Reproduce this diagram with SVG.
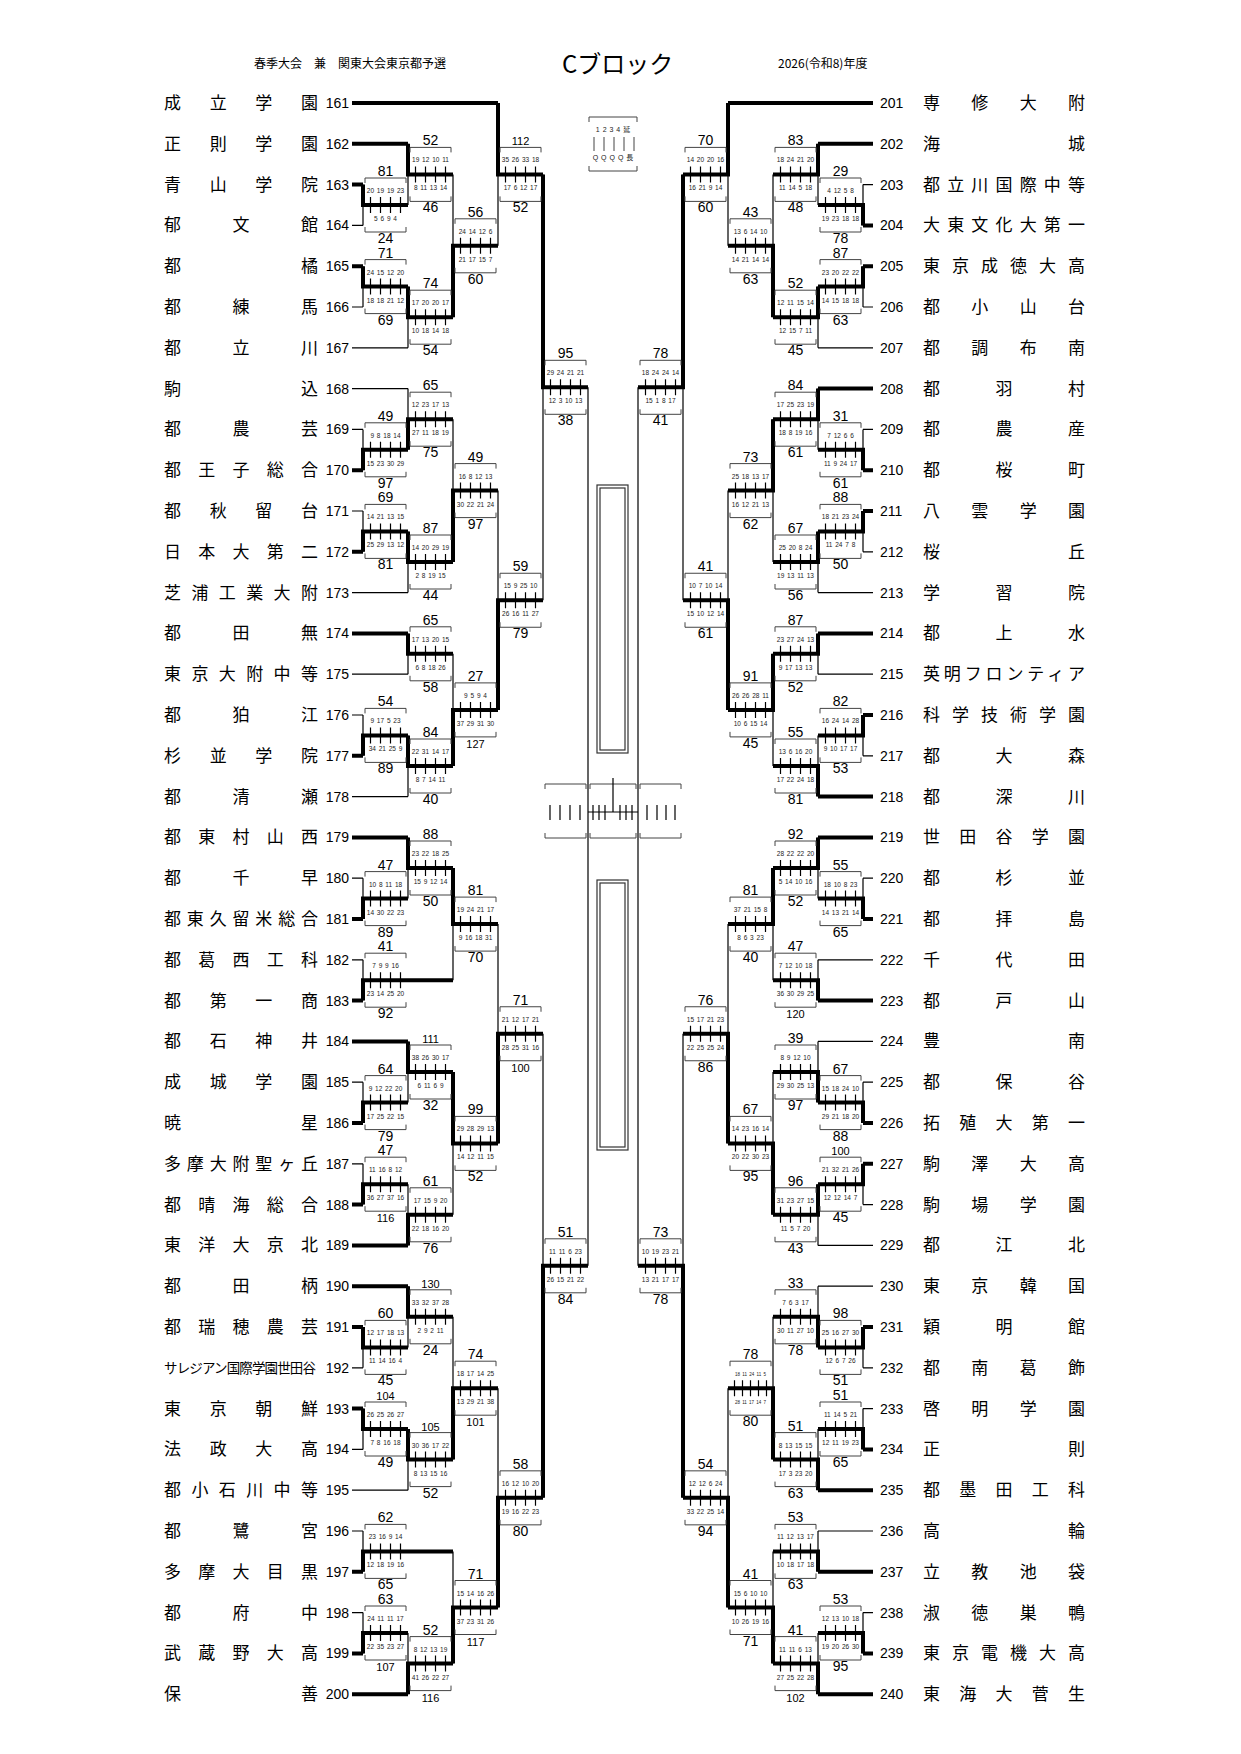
<svg xmlns="http://www.w3.org/2000/svg" xmlns:xlink="http://www.w3.org/1999/xlink" width="1241" height="1754" viewBox="0 0 1241 1754">
<style>
text{font-family:"Liberation Sans",Arial,"Noto Sans CJK JP",sans-serif;fill:#000}
.n{font-family:"Noto Sans CJK JP",sans-serif;font-size:17px}
.n2{font-family:"Noto Sans CJK JP",sans-serif;font-size:13.5px}
.no{font-size:14px}
.ne{font-size:14px;text-anchor:end}
.b{font-size:14px;text-anchor:middle}
.c{font-size:11px;text-anchor:middle}
.s{font-size:6.5px;text-anchor:middle;word-spacing:1px;fill:#222}
.h{font-family:"Noto Sans CJK JP",sans-serif;font-size:12px}
.t{fill:none;stroke:#000;stroke-width:1.2}
.k{fill:none;stroke:#000;stroke-width:4}
.bl{fill:none;stroke:#444;stroke-width:1}
</style>
<defs>
<g id="bx"><path class="bl" d="M2,-22V-27H43V-22M2,22V27H43V22"/><path class="t" d="M7.5,-8V8M17.5,-8V8M27.5,-8V8M37.5,-8V8"/></g>
<g id="bx5"><path class="bl" d="M2,-22V-27H43V-22M2,22V27H43V22"/><path class="t" d="M6.5,-8V8M14.5,-8V8M22.5,-8V8M30.5,-8V8M38.5,-8V8"/></g>
</defs>
<rect width="1241" height="1754" fill="#fff"/>
<g id="header">
<text class="h" x="254" y="68">春季大会　兼　関東大会東京都予選</text>
<text x="562" y="73" style="font-family:'Noto Sans CJK JP',sans-serif;font-size:24px">Cブロック</text>
<text class="h" x="778" y="68">2026(令和8)年度</text>
</g>
<g id="legend">
<path class="bl" d="M589,122V117H637V122M589,166V171H637V166M594,137V151M604,137V151M614,137V151M624,137V151M634,137V151"/>
<text class="s" style="font-size:7px" x="613" y="132">1 2 3 4 延</text>
<text class="s" style="font-size:7px" x="613" y="160">Q Q Q Q 長</text>
</g>
<g id="center">
<rect x="597" y="485" width="31" height="268" fill="none" stroke="#333" stroke-width="1.2"/>
<rect x="600" y="488" width="25" height="262" fill="none" stroke="#333" stroke-width="1.2"/>
<rect x="597" y="880" width="31" height="270" fill="none" stroke="#333" stroke-width="1.2"/>
<rect x="600" y="883" width="25" height="264" fill="none" stroke="#333" stroke-width="1.2"/>
<path class="bl" d="M545,789V784H586V789M545,833V838H586V833M590,789V784H636V789M590,833V838H636V833M640,789V784H681V789M640,833V838H681V833"/>
<path class="t" d="M550,805V820M560,805V820M570,805V820M580,805V820M647,805V820M657,805V820M666,805V820M675,805V820M593,805V820M599,805V820M605,805V820M620,805V820M626,805V820M632,805V820M588,812H638M613,778V812"/>
</g>
<g id="teams-left">
<g id="t161" transform="translate(0,103)"><text class="n" x="164" y="6" textLength="154" lengthAdjust="spacing">成立学園</text><text class="ne" x="349" y="5">161</text></g>
<g id="t162" transform="translate(0,143.8)"><text class="n" x="164" y="6" textLength="154" lengthAdjust="spacing">正則学園</text><text class="ne" x="349" y="5">162</text></g>
<g id="t163" transform="translate(0,184.6)"><text class="n" x="164" y="6" textLength="154" lengthAdjust="spacing">青山学院</text><text class="ne" x="349" y="5">163</text></g>
<g id="t164" transform="translate(0,225.4)"><text class="n" x="164" y="6" textLength="154" lengthAdjust="spacing">郁文館</text><text class="ne" x="349" y="5">164</text></g>
<g id="t165" transform="translate(0,266.2)"><text class="n" x="164" y="6" textLength="154" lengthAdjust="spacing">都橘</text><text class="ne" x="349" y="5">165</text></g>
<g id="t166" transform="translate(0,307)"><text class="n" x="164" y="6" textLength="154" lengthAdjust="spacing">都練馬</text><text class="ne" x="349" y="5">166</text></g>
<g id="t167" transform="translate(0,347.8)"><text class="n" x="164" y="6" textLength="154" lengthAdjust="spacing">都立川</text><text class="ne" x="349" y="5">167</text></g>
<g id="t168" transform="translate(0,388.6)"><text class="n" x="164" y="6" textLength="154" lengthAdjust="spacing">駒込</text><text class="ne" x="349" y="5">168</text></g>
<g id="t169" transform="translate(0,429.4)"><text class="n" x="164" y="6" textLength="154" lengthAdjust="spacing">都農芸</text><text class="ne" x="349" y="5">169</text></g>
<g id="t170" transform="translate(0,470.2)"><text class="n" x="164" y="6" textLength="154" lengthAdjust="spacing">都王子総合</text><text class="ne" x="349" y="5">170</text></g>
<g id="t171" transform="translate(0,511)"><text class="n" x="164" y="6" textLength="154" lengthAdjust="spacing">都秋留台</text><text class="ne" x="349" y="5">171</text></g>
<g id="t172" transform="translate(0,551.8)"><text class="n" x="164" y="6" textLength="154" lengthAdjust="spacing">日本大第二</text><text class="ne" x="349" y="5">172</text></g>
<g id="t173" transform="translate(0,592.6)"><text class="n" x="164" y="6" textLength="154" lengthAdjust="spacing">芝浦工業大附</text><text class="ne" x="349" y="5">173</text></g>
<g id="t174" transform="translate(0,633.4)"><text class="n" x="164" y="6" textLength="154" lengthAdjust="spacing">都田無</text><text class="ne" x="349" y="5">174</text></g>
<g id="t175" transform="translate(0,674.2)"><text class="n" x="164" y="6" textLength="154" lengthAdjust="spacing">東京大附中等</text><text class="ne" x="349" y="5">175</text></g>
<g id="t176" transform="translate(0,715)"><text class="n" x="164" y="6" textLength="154" lengthAdjust="spacing">都狛江</text><text class="ne" x="349" y="5">176</text></g>
<g id="t177" transform="translate(0,755.8)"><text class="n" x="164" y="6" textLength="154" lengthAdjust="spacing">杉並学院</text><text class="ne" x="349" y="5">177</text></g>
<g id="t178" transform="translate(0,796.6)"><text class="n" x="164" y="6" textLength="154" lengthAdjust="spacing">都清瀬</text><text class="ne" x="349" y="5">178</text></g>
<g id="t179" transform="translate(0,837.4)"><text class="n" x="164" y="6" textLength="154" lengthAdjust="spacing">都東村山西</text><text class="ne" x="349" y="5">179</text></g>
<g id="t180" transform="translate(0,878.2)"><text class="n" x="164" y="6" textLength="154" lengthAdjust="spacing">都千早</text><text class="ne" x="349" y="5">180</text></g>
<g id="t181" transform="translate(0,919)"><text class="n" x="164" y="6" textLength="154" lengthAdjust="spacing">都東久留米総合</text><text class="ne" x="349" y="5">181</text></g>
<g id="t182" transform="translate(0,959.8)"><text class="n" x="164" y="6" textLength="154" lengthAdjust="spacing">都葛西工科</text><text class="ne" x="349" y="5">182</text></g>
<g id="t183" transform="translate(0,1000.6)"><text class="n" x="164" y="6" textLength="154" lengthAdjust="spacing">都第一商</text><text class="ne" x="349" y="5">183</text></g>
<g id="t184" transform="translate(0,1041.4)"><text class="n" x="164" y="6" textLength="154" lengthAdjust="spacing">都石神井</text><text class="ne" x="349" y="5">184</text></g>
<g id="t185" transform="translate(0,1082.2)"><text class="n" x="164" y="6" textLength="154" lengthAdjust="spacing">成城学園</text><text class="ne" x="349" y="5">185</text></g>
<g id="t186" transform="translate(0,1123)"><text class="n" x="164" y="6" textLength="154" lengthAdjust="spacing">暁星</text><text class="ne" x="349" y="5">186</text></g>
<g id="t187" transform="translate(0,1163.8)"><text class="n" x="164" y="6" textLength="154" lengthAdjust="spacing">多摩大附聖ヶ丘</text><text class="ne" x="349" y="5">187</text></g>
<g id="t188" transform="translate(0,1204.6)"><text class="n" x="164" y="6" textLength="154" lengthAdjust="spacing">都晴海総合</text><text class="ne" x="349" y="5">188</text></g>
<g id="t189" transform="translate(0,1245.4)"><text class="n" x="164" y="6" textLength="154" lengthAdjust="spacing">東洋大京北</text><text class="ne" x="349" y="5">189</text></g>
<g id="t190" transform="translate(0,1286.2)"><text class="n" x="164" y="6" textLength="154" lengthAdjust="spacing">都田柄</text><text class="ne" x="349" y="5">190</text></g>
<g id="t191" transform="translate(0,1327)"><text class="n" x="164" y="6" textLength="154" lengthAdjust="spacing">都瑞穂農芸</text><text class="ne" x="349" y="5">191</text></g>
<g id="t192" transform="translate(0,1367.8)"><text class="n2" x="164" y="5" textLength="152" lengthAdjust="spacing">サレジアン国際学園世田谷</text><text class="ne" x="349" y="5">192</text></g>
<g id="t193" transform="translate(0,1408.6)"><text class="n" x="164" y="6" textLength="154" lengthAdjust="spacing">東京朝鮮</text><text class="ne" x="349" y="5">193</text></g>
<g id="t194" transform="translate(0,1449.4)"><text class="n" x="164" y="6" textLength="154" lengthAdjust="spacing">法政大高</text><text class="ne" x="349" y="5">194</text></g>
<g id="t195" transform="translate(0,1490.2)"><text class="n" x="164" y="6" textLength="154" lengthAdjust="spacing">都小石川中等</text><text class="ne" x="349" y="5">195</text></g>
<g id="t196" transform="translate(0,1531)"><text class="n" x="164" y="6" textLength="154" lengthAdjust="spacing">都鷺宮</text><text class="ne" x="349" y="5">196</text></g>
<g id="t197" transform="translate(0,1571.8)"><text class="n" x="164" y="6" textLength="154" lengthAdjust="spacing">多摩大目黒</text><text class="ne" x="349" y="5">197</text></g>
<g id="t198" transform="translate(0,1612.6)"><text class="n" x="164" y="6" textLength="154" lengthAdjust="spacing">都府中</text><text class="ne" x="349" y="5">198</text></g>
<g id="t199" transform="translate(0,1653.4)"><text class="n" x="164" y="6" textLength="154" lengthAdjust="spacing">武蔵野大高</text><text class="ne" x="349" y="5">199</text></g>
<g id="t200" transform="translate(0,1694.2)"><text class="n" x="164" y="6" textLength="154" lengthAdjust="spacing">保善</text><text class="ne" x="349" y="5">200</text></g>
</g>
<g id="teams-right">
<g id="t201" transform="translate(0,103)"><text class="no" x="880" y="5">201</text><text class="n" x="923" y="6" textLength="162" lengthAdjust="spacing">専修大附</text></g>
<g id="t202" transform="translate(0,143.8)"><text class="no" x="880" y="5">202</text><text class="n" x="923" y="6" textLength="162" lengthAdjust="spacing">海城</text></g>
<g id="t203" transform="translate(0,184.6)"><text class="no" x="880" y="5">203</text><text class="n" x="923" y="6" textLength="162" lengthAdjust="spacing">都立川国際中等</text></g>
<g id="t204" transform="translate(0,225.4)"><text class="no" x="880" y="5">204</text><text class="n" x="923" y="6" textLength="162" lengthAdjust="spacing">大東文化大第一</text></g>
<g id="t205" transform="translate(0,266.2)"><text class="no" x="880" y="5">205</text><text class="n" x="923" y="6" textLength="162" lengthAdjust="spacing">東京成徳大高</text></g>
<g id="t206" transform="translate(0,307)"><text class="no" x="880" y="5">206</text><text class="n" x="923" y="6" textLength="162" lengthAdjust="spacing">都小山台</text></g>
<g id="t207" transform="translate(0,347.8)"><text class="no" x="880" y="5">207</text><text class="n" x="923" y="6" textLength="162" lengthAdjust="spacing">都調布南</text></g>
<g id="t208" transform="translate(0,388.6)"><text class="no" x="880" y="5">208</text><text class="n" x="923" y="6" textLength="162" lengthAdjust="spacing">都羽村</text></g>
<g id="t209" transform="translate(0,429.4)"><text class="no" x="880" y="5">209</text><text class="n" x="923" y="6" textLength="162" lengthAdjust="spacing">都農産</text></g>
<g id="t210" transform="translate(0,470.2)"><text class="no" x="880" y="5">210</text><text class="n" x="923" y="6" textLength="162" lengthAdjust="spacing">都桜町</text></g>
<g id="t211" transform="translate(0,511)"><text class="no" x="880" y="5">211</text><text class="n" x="923" y="6" textLength="162" lengthAdjust="spacing">八雲学園</text></g>
<g id="t212" transform="translate(0,551.8)"><text class="no" x="880" y="5">212</text><text class="n" x="923" y="6" textLength="162" lengthAdjust="spacing">桜丘</text></g>
<g id="t213" transform="translate(0,592.6)"><text class="no" x="880" y="5">213</text><text class="n" x="923" y="6" textLength="162" lengthAdjust="spacing">学習院</text></g>
<g id="t214" transform="translate(0,633.4)"><text class="no" x="880" y="5">214</text><text class="n" x="923" y="6" textLength="162" lengthAdjust="spacing">都上水</text></g>
<g id="t215" transform="translate(0,674.2)"><text class="no" x="880" y="5">215</text><text class="n" x="923" y="6" textLength="162" lengthAdjust="spacing">英明フロンティア</text></g>
<g id="t216" transform="translate(0,715)"><text class="no" x="880" y="5">216</text><text class="n" x="923" y="6" textLength="162" lengthAdjust="spacing">科学技術学園</text></g>
<g id="t217" transform="translate(0,755.8)"><text class="no" x="880" y="5">217</text><text class="n" x="923" y="6" textLength="162" lengthAdjust="spacing">都大森</text></g>
<g id="t218" transform="translate(0,796.6)"><text class="no" x="880" y="5">218</text><text class="n" x="923" y="6" textLength="162" lengthAdjust="spacing">都深川</text></g>
<g id="t219" transform="translate(0,837.4)"><text class="no" x="880" y="5">219</text><text class="n" x="923" y="6" textLength="162" lengthAdjust="spacing">世田谷学園</text></g>
<g id="t220" transform="translate(0,878.2)"><text class="no" x="880" y="5">220</text><text class="n" x="923" y="6" textLength="162" lengthAdjust="spacing">都杉並</text></g>
<g id="t221" transform="translate(0,919)"><text class="no" x="880" y="5">221</text><text class="n" x="923" y="6" textLength="162" lengthAdjust="spacing">都拝島</text></g>
<g id="t222" transform="translate(0,959.8)"><text class="no" x="880" y="5">222</text><text class="n" x="923" y="6" textLength="162" lengthAdjust="spacing">千代田</text></g>
<g id="t223" transform="translate(0,1000.6)"><text class="no" x="880" y="5">223</text><text class="n" x="923" y="6" textLength="162" lengthAdjust="spacing">都戸山</text></g>
<g id="t224" transform="translate(0,1041.4)"><text class="no" x="880" y="5">224</text><text class="n" x="923" y="6" textLength="162" lengthAdjust="spacing">豊南</text></g>
<g id="t225" transform="translate(0,1082.2)"><text class="no" x="880" y="5">225</text><text class="n" x="923" y="6" textLength="162" lengthAdjust="spacing">都保谷</text></g>
<g id="t226" transform="translate(0,1123)"><text class="no" x="880" y="5">226</text><text class="n" x="923" y="6" textLength="162" lengthAdjust="spacing">拓殖大第一</text></g>
<g id="t227" transform="translate(0,1163.8)"><text class="no" x="880" y="5">227</text><text class="n" x="923" y="6" textLength="162" lengthAdjust="spacing">駒澤大高</text></g>
<g id="t228" transform="translate(0,1204.6)"><text class="no" x="880" y="5">228</text><text class="n" x="923" y="6" textLength="162" lengthAdjust="spacing">駒場学園</text></g>
<g id="t229" transform="translate(0,1245.4)"><text class="no" x="880" y="5">229</text><text class="n" x="923" y="6" textLength="162" lengthAdjust="spacing">都江北</text></g>
<g id="t230" transform="translate(0,1286.2)"><text class="no" x="880" y="5">230</text><text class="n" x="923" y="6" textLength="162" lengthAdjust="spacing">東京韓国</text></g>
<g id="t231" transform="translate(0,1327)"><text class="no" x="880" y="5">231</text><text class="n" x="923" y="6" textLength="162" lengthAdjust="spacing">穎明館</text></g>
<g id="t232" transform="translate(0,1367.8)"><text class="no" x="880" y="5">232</text><text class="n" x="923" y="6" textLength="162" lengthAdjust="spacing">都南葛飾</text></g>
<g id="t233" transform="translate(0,1408.6)"><text class="no" x="880" y="5">233</text><text class="n" x="923" y="6" textLength="162" lengthAdjust="spacing">啓明学園</text></g>
<g id="t234" transform="translate(0,1449.4)"><text class="no" x="880" y="5">234</text><text class="n" x="923" y="6" textLength="162" lengthAdjust="spacing">正則</text></g>
<g id="t235" transform="translate(0,1490.2)"><text class="no" x="880" y="5">235</text><text class="n" x="923" y="6" textLength="162" lengthAdjust="spacing">都墨田工科</text></g>
<g id="t236" transform="translate(0,1531)"><text class="no" x="880" y="5">236</text><text class="n" x="923" y="6" textLength="162" lengthAdjust="spacing">高輪</text></g>
<g id="t237" transform="translate(0,1571.8)"><text class="no" x="880" y="5">237</text><text class="n" x="923" y="6" textLength="162" lengthAdjust="spacing">立教池袋</text></g>
<g id="t238" transform="translate(0,1612.6)"><text class="no" x="880" y="5">238</text><text class="n" x="923" y="6" textLength="162" lengthAdjust="spacing">淑徳巣鴨</text></g>
<g id="t239" transform="translate(0,1653.4)"><text class="no" x="880" y="5">239</text><text class="n" x="923" y="6" textLength="162" lengthAdjust="spacing">東京電機大高</text></g>
<g id="t240" transform="translate(0,1694.2)"><text class="no" x="880" y="5">240</text><text class="n" x="923" y="6" textLength="162" lengthAdjust="spacing">東海大菅生</text></g>
</g>
<g id="connectors">
<path class="t" d="M352 225.4H363M352 307H363M352 347.8H408M352 388.6H408M352 429.4H363M352 511H363M352 592.6H408M352 674.2H408M352 715H363M352 796.6H408M352 878.2H363M352 959.8H363M352 1082.2H363M352 1163.8H363M352 1367.8H363M352 1449.4H363M352 1490.2H408M352 1531H363M352 1612.6H363
M363 184.6V225.4M363 266.2V307M408 143.8V205M408 286.6V347.8M453 174.4V317.2M498 103V245.8M363 429.4V470.2M408 388.6V449.8M363 511V551.8M408 531.4V592.6M453 419.2V562M408 633.4V674.2M363 715V755.8M408 735.4V796.6M453 653.8V766M498 490.6V709.9M543 174.4V600.25M363 878.2V919M408 837.4V898.6M363 959.8V1000.6M453 868V980.2M363 1082.2V1123M408 1041.4V1102.6M363 1163.8V1204.6M408 1184.2V1245.4M453 1072V1214.8M498 924.1V1143.4M363 1327V1367.8M408 1286.2V1347.4M363 1408.6V1449.4M408 1429V1490.2M453 1316.8V1459.6M363 1531V1571.8M363 1612.6V1653.4M408 1633V1694.2M453 1551.4V1663.6M498 1388.2V1607.5M543 1033.75V1497.85M588 387.3V1265.8
M873 184.6H863M873 307H863M873 347.8H818M873 429.4H863M873 551.8H863M873 592.6H818M873 674.2H818M873 755.8H863M873 878.2H863M873 959.8H818M873 1041.4H818M873 1082.2H863M873 1204.6H863M873 1245.4H818M873 1286.2H818M873 1367.8H863M873 1408.6H863M873 1531H818M873 1612.6H863
M863 184.6V225.4M863 266.2V307M818 143.8V205M818 286.6V347.8M773 174.4V317.2M728 103V245.8M863 429.4V470.2M818 388.6V449.8M863 511V551.8M818 531.4V592.6M773 419.2V562M818 633.4V674.2M863 715V755.8M818 735.4V796.6M773 653.8V766M728 490.6V709.9M683 174.4V600.25M863 878.2V919M818 837.4V898.6M818 959.8V1000.6M773 868V980.2M863 1082.2V1123M818 1041.4V1102.6M863 1163.8V1204.6M818 1184.2V1245.4M773 1072V1214.8M728 924.1V1143.4M863 1327V1367.8M818 1286.2V1347.4M863 1408.6V1449.4M818 1429V1490.2M773 1316.8V1459.6M818 1531V1571.8M863 1612.6V1653.4M818 1633V1694.2M773 1551.4V1663.6M728 1388.2V1607.5M683 1033.75V1497.85M638 387.3V1265.8"/>
<path class="k" d="M352 103H498M352 143.8H408M352 184.6H363M352 266.2H363M352 470.2H363M352 551.8H363M352 633.4H408M352 755.8H363M352 837.4H408M352 919H363M352 1000.6H363M352 1041.4H408M352 1123H363M352 1204.6H363M352 1245.4H408M352 1286.2H408M352 1327H363M352 1408.6H363M352 1571.8H363M352 1653.4H363M352 1694.2H408
M363 184.6V205H408M363 266.2V286.6H408M408 143.8V174.4H453M408 286.6V317.2H453M453 317.2V245.8H498M498 103V174.4H543M363 470.2V449.8H408M408 449.8V419.2H453M363 551.8V531.4H408M408 531.4V562H453M453 562V490.6H498M408 633.4V653.8H453M363 755.8V735.4H408M408 735.4V766H453M453 766V709.9H498M498 709.9V600.25H543M543 174.4V387.3H588M363 919V898.6H408M408 837.4V868H453M363 1000.6V980.2H453M453 868V924.1H498M363 1123V1102.6H408M408 1041.4V1072H453M363 1204.6V1184.2H408M408 1245.4V1214.8H453M453 1072V1143.4H498M498 1143.4V1033.75H543M363 1327V1347.4H408M408 1286.2V1316.8H453M363 1408.6V1429H408M408 1429V1459.6H453M453 1459.6V1388.2H498M363 1571.8V1551.4H453M363 1653.4V1633H408M408 1694.2V1663.6H453M453 1663.6V1607.5H498M498 1607.5V1497.85H543M543 1497.85V1265.8H588
M873 103H728M873 143.8H818M873 225.4H863M873 266.2H863M873 388.6H818M873 470.2H863M873 511H863M873 633.4H818M873 715H863M873 796.6H818M873 837.4H818M873 919H863M873 1000.6H818M873 1123H863M873 1163.8H863M873 1327H863M873 1449.4H863M873 1490.2H818M873 1571.8H818M873 1653.4H863M873 1694.2H818
M863 225.4V205H818M863 266.2V286.6H818M818 143.8V174.4H773M818 286.6V317.2H773M773 317.2V245.8H728M728 103V174.4H683M863 470.2V449.8H818M818 388.6V419.2H773M863 511V531.4H818M818 531.4V562H773M773 419.2V490.6H728M818 633.4V653.8H773M863 715V735.4H818M818 796.6V766H773M773 653.8V709.9H728M728 709.9V600.25H683M683 174.4V387.3H638M863 919V898.6H818M818 837.4V868H773M818 1000.6V980.2H773M773 868V924.1H728M863 1123V1102.6H818M818 1102.6V1072H773M863 1163.8V1184.2H818M818 1184.2V1214.8H773M773 1214.8V1143.4H728M728 1143.4V1033.75H683M863 1327V1347.4H818M818 1347.4V1316.8H773M863 1449.4V1429H818M818 1490.2V1459.6H773M773 1459.6V1388.2H728M818 1571.8V1551.4H773M863 1653.4V1633H818M818 1694.2V1663.6H773M773 1663.6V1607.5H728M728 1607.5V1497.85H683M683 1497.85V1265.8H638"/>
</g>
<g id="scores-left">
<g id="mL1" transform="translate(363,205)"><use href="#bx"/><text class="b" x="22.5" y="-29">81</text><text class="b" x="22.5" y="38">24</text><text class="s" x="22.5" y="-12">20 19 19 23</text><text class="s" x="22.5" y="16">5 6 9 4</text></g>
<g id="mL2" transform="translate(363,286.6)"><use href="#bx"/><text class="b" x="22.5" y="-29">71</text><text class="b" x="22.5" y="38">69</text><text class="s" x="22.5" y="-12">24 15 12 20</text><text class="s" x="22.5" y="16">18 18 21 12</text></g>
<g id="mL3" transform="translate(408,174.4)"><use href="#bx"/><text class="b" x="22.5" y="-29">52</text><text class="b" x="22.5" y="38">46</text><text class="s" x="22.5" y="-12">19 12 10 11</text><text class="s" x="22.5" y="16">8 11 13 14</text></g>
<g id="mL4" transform="translate(408,317.2)"><use href="#bx"/><text class="b" x="22.5" y="-29">74</text><text class="b" x="22.5" y="38">54</text><text class="s" x="22.5" y="-12">17 20 20 17</text><text class="s" x="22.5" y="16">10 18 14 18</text></g>
<g id="mL5" transform="translate(453,245.8)"><use href="#bx"/><text class="b" x="22.5" y="-29">56</text><text class="b" x="22.5" y="38">60</text><text class="s" x="22.5" y="-12">24 14 12 6</text><text class="s" x="22.5" y="16">21 17 15 7</text></g>
<g id="mL6" transform="translate(498,174.4)"><use href="#bx"/><text class="c" x="22.5" y="-29">112</text><text class="b" x="22.5" y="38">52</text><text class="s" x="22.5" y="-12">35 26 33 18</text><text class="s" x="22.5" y="16">17 6 12 17</text></g>
<g id="mL7" transform="translate(363,449.8)"><use href="#bx"/><text class="b" x="22.5" y="-29">49</text><text class="b" x="22.5" y="38">97</text><text class="s" x="22.5" y="-12">9 8 18 14</text><text class="s" x="22.5" y="16">15 23 30 29</text></g>
<g id="mL8" transform="translate(408,419.2)"><use href="#bx"/><text class="b" x="22.5" y="-29">65</text><text class="b" x="22.5" y="38">75</text><text class="s" x="22.5" y="-12">12 23 17 13</text><text class="s" x="22.5" y="16">27 11 18 19</text></g>
<g id="mL9" transform="translate(363,531.4)"><use href="#bx"/><text class="b" x="22.5" y="-29">69</text><text class="b" x="22.5" y="38">81</text><text class="s" x="22.5" y="-12">14 21 13 15</text><text class="s" x="22.5" y="16">25 29 13 12</text></g>
<g id="mL10" transform="translate(408,562)"><use href="#bx"/><text class="b" x="22.5" y="-29">87</text><text class="b" x="22.5" y="38">44</text><text class="s" x="22.5" y="-12">14 20 29 19</text><text class="s" x="22.5" y="16">2 8 19 15</text></g>
<g id="mL11" transform="translate(453,490.6)"><use href="#bx"/><text class="b" x="22.5" y="-29">49</text><text class="b" x="22.5" y="38">97</text><text class="s" x="22.5" y="-12">16 8 12 13</text><text class="s" x="22.5" y="16">30 22 21 24</text></g>
<g id="mL12" transform="translate(408,653.8)"><use href="#bx"/><text class="b" x="22.5" y="-29">65</text><text class="b" x="22.5" y="38">58</text><text class="s" x="22.5" y="-12">17 13 20 15</text><text class="s" x="22.5" y="16">6 8 18 26</text></g>
<g id="mL13" transform="translate(363,735.4)"><use href="#bx"/><text class="b" x="22.5" y="-29">54</text><text class="b" x="22.5" y="38">89</text><text class="s" x="22.5" y="-12">9 17 5 23</text><text class="s" x="22.5" y="16">34 21 25 9</text></g>
<g id="mL14" transform="translate(408,766)"><use href="#bx"/><text class="b" x="22.5" y="-29">84</text><text class="b" x="22.5" y="38">40</text><text class="s" x="22.5" y="-12">22 31 14 17</text><text class="s" x="22.5" y="16">8 7 14 11</text></g>
<g id="mL15" transform="translate(453,709.9)"><use href="#bx"/><text class="b" x="22.5" y="-29">27</text><text class="c" x="22.5" y="38">127</text><text class="s" x="22.5" y="-12">9 5 9 4</text><text class="s" x="22.5" y="16">37 29 31 30</text></g>
<g id="mL16" transform="translate(498,600.25)"><use href="#bx"/><text class="b" x="22.5" y="-29">59</text><text class="b" x="22.5" y="38">79</text><text class="s" x="22.5" y="-12">15 9 25 10</text><text class="s" x="22.5" y="16">26 16 11 27</text></g>
<g id="mL17" transform="translate(543,387.3)"><use href="#bx"/><text class="b" x="22.5" y="-29">95</text><text class="b" x="22.5" y="38">38</text><text class="s" x="22.5" y="-12">29 24 21 21</text><text class="s" x="22.5" y="16">12 3 10 13</text></g>
<g id="mL18" transform="translate(363,898.6)"><use href="#bx"/><text class="b" x="22.5" y="-29">47</text><text class="b" x="22.5" y="38">89</text><text class="s" x="22.5" y="-12">10 8 11 18</text><text class="s" x="22.5" y="16">14 30 22 23</text></g>
<g id="mL19" transform="translate(408,868)"><use href="#bx"/><text class="b" x="22.5" y="-29">88</text><text class="b" x="22.5" y="38">50</text><text class="s" x="22.5" y="-12">23 22 18 25</text><text class="s" x="22.5" y="16">15 9 12 14</text></g>
<g id="mL20" transform="translate(363,980.2)"><use href="#bx"/><text class="b" x="22.5" y="-29">41</text><text class="b" x="22.5" y="38">92</text><text class="s" x="22.5" y="-12">7 9 9 16</text><text class="s" x="22.5" y="16">23 14 25 20</text></g>
<g id="mL21" transform="translate(453,924.1)"><use href="#bx"/><text class="b" x="22.5" y="-29">81</text><text class="b" x="22.5" y="38">70</text><text class="s" x="22.5" y="-12">19 24 21 17</text><text class="s" x="22.5" y="16">9 16 18 31</text></g>
<g id="mL22" transform="translate(363,1102.6)"><use href="#bx"/><text class="b" x="22.5" y="-29">64</text><text class="b" x="22.5" y="38">79</text><text class="s" x="22.5" y="-12">9 12 22 20</text><text class="s" x="22.5" y="16">17 25 22 15</text></g>
<g id="mL23" transform="translate(408,1072)"><use href="#bx"/><text class="c" x="22.5" y="-29">111</text><text class="b" x="22.5" y="38">32</text><text class="s" x="22.5" y="-12">38 26 30 17</text><text class="s" x="22.5" y="16">6 11 6 9</text></g>
<g id="mL24" transform="translate(363,1184.2)"><use href="#bx"/><text class="b" x="22.5" y="-29">47</text><text class="c" x="22.5" y="38">116</text><text class="s" x="22.5" y="-12">11 16 8 12</text><text class="s" x="22.5" y="16">36 27 37 16</text></g>
<g id="mL25" transform="translate(408,1214.8)"><use href="#bx"/><text class="b" x="22.5" y="-29">61</text><text class="b" x="22.5" y="38">76</text><text class="s" x="22.5" y="-12">17 15 9 20</text><text class="s" x="22.5" y="16">22 18 16 20</text></g>
<g id="mL26" transform="translate(453,1143.4)"><use href="#bx"/><text class="b" x="22.5" y="-29">99</text><text class="b" x="22.5" y="38">52</text><text class="s" x="22.5" y="-12">29 28 29 13</text><text class="s" x="22.5" y="16">14 12 11 15</text></g>
<g id="mL27" transform="translate(498,1033.75)"><use href="#bx"/><text class="b" x="22.5" y="-29">71</text><text class="c" x="22.5" y="38">100</text><text class="s" x="22.5" y="-12">21 12 17 21</text><text class="s" x="22.5" y="16">28 25 31 16</text></g>
<g id="mL28" transform="translate(363,1347.4)"><use href="#bx"/><text class="b" x="22.5" y="-29">60</text><text class="b" x="22.5" y="38">45</text><text class="s" x="22.5" y="-12">12 17 18 13</text><text class="s" x="22.5" y="16">11 14 16 4</text></g>
<g id="mL29" transform="translate(408,1316.8)"><use href="#bx"/><text class="c" x="22.5" y="-29">130</text><text class="b" x="22.5" y="38">24</text><text class="s" x="22.5" y="-12">33 32 37 28</text><text class="s" x="22.5" y="16">2 9 2 11</text></g>
<g id="mL30" transform="translate(363,1429)"><use href="#bx"/><text class="c" x="22.5" y="-29">104</text><text class="b" x="22.5" y="38">49</text><text class="s" x="22.5" y="-12">26 25 26 27</text><text class="s" x="22.5" y="16">7 8 16 18</text></g>
<g id="mL31" transform="translate(408,1459.6)"><use href="#bx"/><text class="c" x="22.5" y="-29">105</text><text class="b" x="22.5" y="38">52</text><text class="s" x="22.5" y="-12">30 36 17 22</text><text class="s" x="22.5" y="16">8 13 15 16</text></g>
<g id="mL32" transform="translate(453,1388.2)"><use href="#bx"/><text class="b" x="22.5" y="-29">74</text><text class="c" x="22.5" y="38">101</text><text class="s" x="22.5" y="-12">18 17 14 25</text><text class="s" x="22.5" y="16">13 29 21 38</text></g>
<g id="mL33" transform="translate(363,1551.4)"><use href="#bx"/><text class="b" x="22.5" y="-29">62</text><text class="b" x="22.5" y="38">65</text><text class="s" x="22.5" y="-12">23 16 9 14</text><text class="s" x="22.5" y="16">12 18 19 16</text></g>
<g id="mL34" transform="translate(363,1633)"><use href="#bx"/><text class="b" x="22.5" y="-29">63</text><text class="c" x="22.5" y="38">107</text><text class="s" x="22.5" y="-12">24 11 11 17</text><text class="s" x="22.5" y="16">22 35 23 27</text></g>
<g id="mL35" transform="translate(408,1663.6)"><use href="#bx"/><text class="b" x="22.5" y="-29">52</text><text class="c" x="22.5" y="38">116</text><text class="s" x="22.5" y="-12">8 12 13 19</text><text class="s" x="22.5" y="16">41 26 22 27</text></g>
<g id="mL36" transform="translate(453,1607.5)"><use href="#bx"/><text class="b" x="22.5" y="-29">71</text><text class="c" x="22.5" y="38">117</text><text class="s" x="22.5" y="-12">15 14 16 26</text><text class="s" x="22.5" y="16">37 23 31 26</text></g>
<g id="mL37" transform="translate(498,1497.85)"><use href="#bx"/><text class="b" x="22.5" y="-29">58</text><text class="b" x="22.5" y="38">80</text><text class="s" x="22.5" y="-12">16 12 10 20</text><text class="s" x="22.5" y="16">19 16 22 23</text></g>
<g id="mL38" transform="translate(543,1265.8)"><use href="#bx"/><text class="b" x="22.5" y="-29">51</text><text class="b" x="22.5" y="38">84</text><text class="s" x="22.5" y="-12">11 11 6 23</text><text class="s" x="22.5" y="16">26 15 21 22</text></g>
</g>
<g id="scores-right">
<g id="mR1" transform="translate(818,205)"><use href="#bx"/><text class="b" x="22.5" y="-29">29</text><text class="b" x="22.5" y="38">78</text><text class="s" x="22.5" y="-12">4 12 5 8</text><text class="s" x="22.5" y="16">19 23 18 18</text></g>
<g id="mR2" transform="translate(818,286.6)"><use href="#bx"/><text class="b" x="22.5" y="-29">87</text><text class="b" x="22.5" y="38">63</text><text class="s" x="22.5" y="-12">23 20 22 22</text><text class="s" x="22.5" y="16">14 15 18 18</text></g>
<g id="mR3" transform="translate(773,174.4)"><use href="#bx"/><text class="b" x="22.5" y="-29">83</text><text class="b" x="22.5" y="38">48</text><text class="s" x="22.5" y="-12">18 24 21 20</text><text class="s" x="22.5" y="16">11 14 5 18</text></g>
<g id="mR4" transform="translate(773,317.2)"><use href="#bx"/><text class="b" x="22.5" y="-29">52</text><text class="b" x="22.5" y="38">45</text><text class="s" x="22.5" y="-12">12 11 15 14</text><text class="s" x="22.5" y="16">12 15 7 11</text></g>
<g id="mR5" transform="translate(728,245.8)"><use href="#bx"/><text class="b" x="22.5" y="-29">43</text><text class="b" x="22.5" y="38">63</text><text class="s" x="22.5" y="-12">13 6 14 10</text><text class="s" x="22.5" y="16">14 21 14 14</text></g>
<g id="mR6" transform="translate(683,174.4)"><use href="#bx"/><text class="b" x="22.5" y="-29">70</text><text class="b" x="22.5" y="38">60</text><text class="s" x="22.5" y="-12">14 20 20 16</text><text class="s" x="22.5" y="16">16 21 9 14</text></g>
<g id="mR7" transform="translate(818,449.8)"><use href="#bx"/><text class="b" x="22.5" y="-29">31</text><text class="b" x="22.5" y="38">61</text><text class="s" x="22.5" y="-12">7 12 6 6</text><text class="s" x="22.5" y="16">11 9 24 17</text></g>
<g id="mR8" transform="translate(773,419.2)"><use href="#bx"/><text class="b" x="22.5" y="-29">84</text><text class="b" x="22.5" y="38">61</text><text class="s" x="22.5" y="-12">17 25 23 19</text><text class="s" x="22.5" y="16">18 8 19 16</text></g>
<g id="mR9" transform="translate(818,531.4)"><use href="#bx"/><text class="b" x="22.5" y="-29">88</text><text class="b" x="22.5" y="38">50</text><text class="s" x="22.5" y="-12">18 21 23 24</text><text class="s" x="22.5" y="16">11 24 7 8</text></g>
<g id="mR10" transform="translate(773,562)"><use href="#bx"/><text class="b" x="22.5" y="-29">67</text><text class="b" x="22.5" y="38">56</text><text class="s" x="22.5" y="-12">25 20 8 24</text><text class="s" x="22.5" y="16">19 13 11 13</text></g>
<g id="mR11" transform="translate(728,490.6)"><use href="#bx"/><text class="b" x="22.5" y="-29">73</text><text class="b" x="22.5" y="38">62</text><text class="s" x="22.5" y="-12">25 18 13 17</text><text class="s" x="22.5" y="16">16 12 21 13</text></g>
<g id="mR12" transform="translate(773,653.8)"><use href="#bx"/><text class="b" x="22.5" y="-29">87</text><text class="b" x="22.5" y="38">52</text><text class="s" x="22.5" y="-12">23 27 24 13</text><text class="s" x="22.5" y="16">9 17 13 13</text></g>
<g id="mR13" transform="translate(818,735.4)"><use href="#bx"/><text class="b" x="22.5" y="-29">82</text><text class="b" x="22.5" y="38">53</text><text class="s" x="22.5" y="-12">16 24 14 28</text><text class="s" x="22.5" y="16">9 10 17 17</text></g>
<g id="mR14" transform="translate(773,766)"><use href="#bx"/><text class="b" x="22.5" y="-29">55</text><text class="b" x="22.5" y="38">81</text><text class="s" x="22.5" y="-12">13 6 16 20</text><text class="s" x="22.5" y="16">17 22 24 18</text></g>
<g id="mR15" transform="translate(728,709.9)"><use href="#bx"/><text class="b" x="22.5" y="-29">91</text><text class="b" x="22.5" y="38">45</text><text class="s" x="22.5" y="-12">26 26 28 11</text><text class="s" x="22.5" y="16">10 6 15 14</text></g>
<g id="mR16" transform="translate(683,600.25)"><use href="#bx"/><text class="b" x="22.5" y="-29">41</text><text class="b" x="22.5" y="38">61</text><text class="s" x="22.5" y="-12">10 7 10 14</text><text class="s" x="22.5" y="16">15 10 12 14</text></g>
<g id="mR17" transform="translate(638,387.3)"><use href="#bx"/><text class="b" x="22.5" y="-29">78</text><text class="b" x="22.5" y="38">41</text><text class="s" x="22.5" y="-12">18 24 24 14</text><text class="s" x="22.5" y="16">15 1 8 17</text></g>
<g id="mR18" transform="translate(818,898.6)"><use href="#bx"/><text class="b" x="22.5" y="-29">55</text><text class="b" x="22.5" y="38">65</text><text class="s" x="22.5" y="-12">18 10 8 23</text><text class="s" x="22.5" y="16">14 13 21 14</text></g>
<g id="mR19" transform="translate(773,868)"><use href="#bx"/><text class="b" x="22.5" y="-29">92</text><text class="b" x="22.5" y="38">52</text><text class="s" x="22.5" y="-12">28 22 22 20</text><text class="s" x="22.5" y="16">5 14 10 16</text></g>
<g id="mR20" transform="translate(773,980.2)"><use href="#bx"/><text class="b" x="22.5" y="-29">47</text><text class="c" x="22.5" y="38">120</text><text class="s" x="22.5" y="-12">7 12 10 18</text><text class="s" x="22.5" y="16">36 30 29 25</text></g>
<g id="mR21" transform="translate(728,924.1)"><use href="#bx"/><text class="b" x="22.5" y="-29">81</text><text class="b" x="22.5" y="38">40</text><text class="s" x="22.5" y="-12">37 21 15 8</text><text class="s" x="22.5" y="16">8 6 3 23</text></g>
<g id="mR22" transform="translate(818,1102.6)"><use href="#bx"/><text class="b" x="22.5" y="-29">67</text><text class="b" x="22.5" y="38">88</text><text class="s" x="22.5" y="-12">15 18 24 10</text><text class="s" x="22.5" y="16">29 21 18 20</text></g>
<g id="mR23" transform="translate(773,1072)"><use href="#bx"/><text class="b" x="22.5" y="-29">39</text><text class="b" x="22.5" y="38">97</text><text class="s" x="22.5" y="-12">8 9 12 10</text><text class="s" x="22.5" y="16">29 30 25 13</text></g>
<g id="mR24" transform="translate(818,1184.2)"><use href="#bx"/><text class="c" x="22.5" y="-29">100</text><text class="b" x="22.5" y="38">45</text><text class="s" x="22.5" y="-12">21 32 21 26</text><text class="s" x="22.5" y="16">12 12 14 7</text></g>
<g id="mR25" transform="translate(773,1214.8)"><use href="#bx"/><text class="b" x="22.5" y="-29">96</text><text class="b" x="22.5" y="38">43</text><text class="s" x="22.5" y="-12">31 23 27 15</text><text class="s" x="22.5" y="16">11 5 7 20</text></g>
<g id="mR26" transform="translate(728,1143.4)"><use href="#bx"/><text class="b" x="22.5" y="-29">67</text><text class="b" x="22.5" y="38">95</text><text class="s" x="22.5" y="-12">14 23 16 14</text><text class="s" x="22.5" y="16">20 22 30 23</text></g>
<g id="mR27" transform="translate(683,1033.75)"><use href="#bx"/><text class="b" x="22.5" y="-29">76</text><text class="b" x="22.5" y="38">86</text><text class="s" x="22.5" y="-12">15 17 21 23</text><text class="s" x="22.5" y="16">22 25 25 24</text></g>
<g id="mR28" transform="translate(818,1347.4)"><use href="#bx"/><text class="b" x="22.5" y="-29">98</text><text class="b" x="22.5" y="38">51</text><text class="s" x="22.5" y="-12">25 16 27 30</text><text class="s" x="22.5" y="16">12 6 7 26</text></g>
<g id="mR29" transform="translate(773,1316.8)"><use href="#bx"/><text class="b" x="22.5" y="-29">33</text><text class="b" x="22.5" y="38">78</text><text class="s" x="22.5" y="-12">7 6 3 17</text><text class="s" x="22.5" y="16">30 11 27 10</text></g>
<g id="mR30" transform="translate(818,1429)"><use href="#bx"/><text class="b" x="22.5" y="-29">51</text><text class="b" x="22.5" y="38">65</text><text class="s" x="22.5" y="-12">11 14 5 21</text><text class="s" x="22.5" y="16">12 11 19 23</text></g>
<g id="mR31" transform="translate(773,1459.6)"><use href="#bx"/><text class="b" x="22.5" y="-29">51</text><text class="b" x="22.5" y="38">63</text><text class="s" x="22.5" y="-12">8 13 15 15</text><text class="s" x="22.5" y="16">17 3 23 20</text></g>
<g id="mR32" transform="translate(728,1388.2)"><use href="#bx5"/><text class="b" x="22.5" y="-29">78</text><text class="b" x="22.5" y="38">80</text><text class="s" style="font-size:4.5px" x="22.5" y="-12">18 11 24 11 5</text><text class="s" style="font-size:4.5px" x="22.5" y="16">28 11 17 14 7</text></g>
<g id="mR33" transform="translate(773,1551.4)"><use href="#bx"/><text class="b" x="22.5" y="-29">53</text><text class="b" x="22.5" y="38">63</text><text class="s" x="22.5" y="-12">11 12 13 17</text><text class="s" x="22.5" y="16">10 18 17 18</text></g>
<g id="mR34" transform="translate(818,1633)"><use href="#bx"/><text class="b" x="22.5" y="-29">53</text><text class="b" x="22.5" y="38">95</text><text class="s" x="22.5" y="-12">12 13 10 18</text><text class="s" x="22.5" y="16">19 20 26 30</text></g>
<g id="mR35" transform="translate(773,1663.6)"><use href="#bx"/><text class="b" x="22.5" y="-29">41</text><text class="c" x="22.5" y="38">102</text><text class="s" x="22.5" y="-12">11 11 6 13</text><text class="s" x="22.5" y="16">27 25 22 28</text></g>
<g id="mR36" transform="translate(728,1607.5)"><use href="#bx"/><text class="b" x="22.5" y="-29">41</text><text class="b" x="22.5" y="38">71</text><text class="s" x="22.5" y="-12">15 6 10 10</text><text class="s" x="22.5" y="16">10 26 19 16</text></g>
<g id="mR37" transform="translate(683,1497.85)"><use href="#bx"/><text class="b" x="22.5" y="-29">54</text><text class="b" x="22.5" y="38">94</text><text class="s" x="22.5" y="-12">12 12 6 24</text><text class="s" x="22.5" y="16">33 22 25 14</text></g>
<g id="mR38" transform="translate(638,1265.8)"><use href="#bx"/><text class="b" x="22.5" y="-29">73</text><text class="b" x="22.5" y="38">78</text><text class="s" x="22.5" y="-12">10 19 23 21</text><text class="s" x="22.5" y="16">13 21 17 17</text></g>
</g>
</svg>
